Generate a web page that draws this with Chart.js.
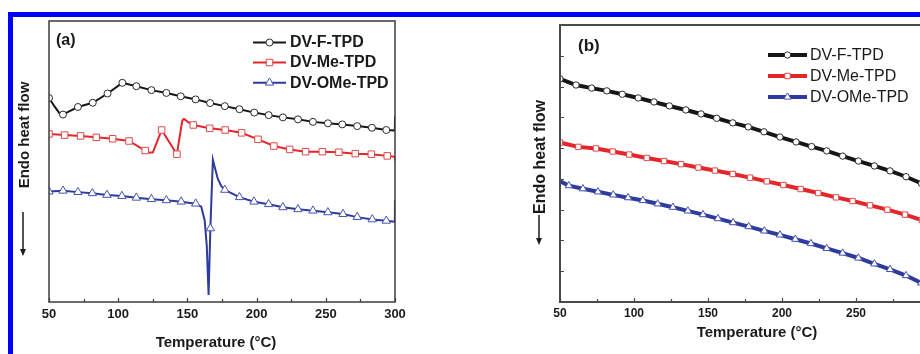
<!DOCTYPE html>
<html>
<head>
<meta charset="utf-8">
<script src="https://cdn.jsdelivr.net/npm/chart.js@4.4.1/dist/chart.umd.min.js"></script>
<style>
  html, body { margin: 0; padding: 0; background: #fff; }
  body { width: 920px; height: 354px; overflow: hidden; position: relative; }
  #frame { position: absolute; left: 8px; top: 12px; width: 1000px; height: 400px;
           border-top: 5px solid #0000ff; border-left: 5px solid #0000ff; }
  canvas { position: absolute; top: 0; }
  #ca { left: 0; }
  #cb { left: 460px; }
</style>
</head>
<body>
<div id="frame"></div>
<canvas id="ca" width="460" height="354"></canvas>
<canvas id="cb" width="480" height="354"></canvas>
<script>
// ---- data (temperature in C, heat flow in arbitrary units) ----
const seriesNames = ["DV-F-TPD", "DV-Me-TPD", "DV-OMe-TPD"];

// panel (a): points carrying a marker, plus extra points that only shape the line
const aFTemp = [50, 60.1, 70.9, 81.6, 92.3, 103, 113.1, 124, 134.8, 145.2, 155.9, 166.4, 177, 187.6, 198.3, 208.7, 219, 229.9, 240.7, 251.5, 261.9, 272.7, 283.3, 293.7];
const aFFlow = [72.6, 66.7, 69.4, 70.9, 74.2, 78.0, 76.8, 75.4, 74.4, 73.2, 72.1, 70.8, 69.7, 68.6, 67.4, 66.5, 65.7, 65.0, 64.1, 63.6, 63.2, 62.6, 62.0, 61.2];
const aFExtraTemp = [54, 57.5, 64.5, 299.9, 300];
const aFExtraFlow = [69.6, 67.2, 67.8, 61.0, 66.0];

const aMeTemp = [50, 61.3, 72.8, 84.2, 96, 107.8, 119.5, 131.4, 142.4, 154.3, 166.1, 177.3, 189.2, 201, 212.5, 223.9, 235.4, 247.5, 259.5, 271.3, 282.9, 294.4];
const aMeFlow = [59.8, 59.4, 59.1, 58.6, 58.1, 57.3, 53.9, 61.2, 52.6, 63.0, 61.8, 61.2, 60.2, 57.9, 55.5, 54.3, 53.5, 53.5, 53.3, 52.8, 52.6, 52.0];
const aMeExtraTemp = [122, 125, 143.5, 146.3, 147.5, 150, 299.9, 300];
const aMeExtraFlow = [53.2, 53.2, 56.0, 64.6, 65.2, 64.2, 51.7, 50.3];

const aOMeTemp = [50, 60.1, 70.9, 81.3, 91.9, 102.7, 113.1, 124, 134.8, 145.5, 156, 166.6, 177, 187.6, 198.1, 208.7, 219, 229.9, 240.7, 251.5, 262.4, 272.7, 283.6, 293.7];
const aOMeFlow = [39.3, 39.6, 39.1, 38.7, 38.1, 37.7, 37.1, 36.6, 36.2, 35.7, 35.0, 26.2, 39.9, 37.3, 35.7, 34.8, 33.7, 33.0, 32.5, 31.9, 31.3, 30.2, 29.4, 28.9];
const aOMeExtraTemp = [160, 162.5, 164, 165.3, 168.4, 170, 172, 174.5, 299.9, 300];
const aOMeExtraFlow = [33.9, 29.0, 20.0, 2.5, 50.6, 47.5, 43.8, 41.2, 28.6, 36.3];

// panel (b)
const bFTemp = [50, 60.8, 71.4, 81.6, 92.1, 102.9, 113.5, 123.9, 135, 145.3, 155.9, 166.7, 177.2, 187.8, 198.6, 209.5, 220, 230.2, 241, 251.6, 262.4, 273, 283.8, 294.3];
const bFFlow = [7.25, 7.05, 6.95, 6.86, 6.75, 6.63, 6.50, 6.37, 6.24, 6.11, 5.97, 5.82, 5.69, 5.53, 5.36, 5.20, 5.05, 4.91, 4.74, 4.58, 4.42, 4.26, 4.07, 3.85];
const bFExtraTemp = [300];
const bFExtraFlow = [3.74];

const bMeTemp = [50, 62.4, 74.3, 85.6, 96.8, 108.6, 120.3, 131.8, 143.5, 154.7, 166.7, 178.4, 189.7, 200.9, 212.6, 224.5, 236.5, 247.7, 259.5, 271.2, 283.1, 294.5];
const bMeFlow = [5.18, 5.04, 4.99, 4.89, 4.79, 4.68, 4.58, 4.48, 4.37, 4.27, 4.16, 4.04, 3.92, 3.80, 3.67, 3.54, 3.40, 3.28, 3.14, 3.00, 2.84, 2.66];
const bMeExtraTemp = [300];
const bMeExtraFlow = [2.58];

const bOMeTemp = [56, 65.5, 75.6, 86, 96, 106, 116, 126.3, 136.4, 146.6, 156.7, 167, 177.5, 188, 198.6, 209, 219.5, 230.2, 241, 251.6, 262.4, 273, 283.8, 294];
const bOMeFlow = [3.78, 3.68, 3.58, 3.48, 3.39, 3.30, 3.19, 3.08, 2.96, 2.84, 2.71, 2.58, 2.45, 2.31, 2.18, 2.04, 1.90, 1.74, 1.59, 1.43, 1.24, 1.06, 0.86, 0.62];
const bOMeExtraTemp = [50, 300];
const bOMeExtraFlow = [3.92, 0.50];

const tempMin = 50, tempMax = 300, tempStep = 50;

// ---- helpers ----
const FONT = '"Liberation Sans", Arial, sans-serif';
const colors = ["#161616", "#e3262c", "#2e3b9e"];
const markColors = ["#2a2a2a", "#e04848", "#4652b2"];
const markStyles = ["circle", "rect", "triangle"];

function buildPoints(t, y, et, ey) {
  const pts = t.map((v, i) => ({ x: v, y: y[i], mark: true }));
  et.forEach((v, i) => pts.push({ x: v, y: ey[i], mark: false }));
  return pts.sort((p, q) => p.x - q.x);
}

function makeDataset(i, pts, lineWidth, radii) {
  return {
    label: seriesNames[i],
    data: pts,
    borderColor: colors[i],
    borderWidth: lineWidth,
    pointStyle: markStyles[i],
    pointBackgroundColor: "#fff",
    pointBorderColor: markColors[i],
    pointBorderWidth: 1,
    pointRadius: ctx => (ctx.raw && ctx.raw.mark) ? radii[i] : 0,
    pointHoverRadius: 0,
    tension: 0,
    fill: false
  };
}

function drawMarker(ctx, style, x, y, r) {
  ctx.beginPath();
  if (style === "circle") {
    ctx.arc(x, y, r, 0, Math.PI * 2);
  } else if (style === "rect") {
    const s = r * Math.SQRT1_2;
    ctx.rect(x - s, y - s, 2 * s, 2 * s);
  } else {
    let a = 0;
    ctx.moveTo(x + Math.sin(a) * r, y - Math.cos(a) * r);
    a += Math.PI * 2 / 3;
    ctx.lineTo(x + Math.sin(a) * r, y - Math.cos(a) * r);
    a += Math.PI * 2 / 3;
    ctx.lineTo(x + Math.sin(a) * r, y - Math.cos(a) * r);
    ctx.closePath();
  }
  ctx.fill();
  ctx.stroke();
}

// frame, inner ticks, titles, panel tag and legend
function makeDecor(cfg) {
  return {
    id: "decor",
    afterDatasetsDraw(chart) {
      const ctx = chart.ctx;
      const a = chart.chartArea;
      const xs = chart.scales.x, ys = chart.scales.y;
      ctx.save();
      ctx.strokeStyle = cfg.frameColor;
      ctx.lineWidth = cfg.frameWidth;
      ctx.strokeRect(a.left, a.top, a.right - a.left, a.bottom - a.top);

      ctx.lineWidth = 1.2;
      ctx.beginPath();
      for (let t = tempMin; t <= tempMax; t += tempStep / 2) {
        const px = Math.round(xs.getPixelForValue(t)) + 0.5;
        const len = (t - tempMin) % tempStep === 0 ? 4 : 3;
        ctx.moveTo(px, a.bottom);
        ctx.lineTo(px, a.bottom - len);
      }
      if (cfg.yTicks) {
        for (let v = ys.min + 1; v < ys.max; v++) {
          const py = Math.round(ys.getPixelForValue(v)) + 0.5;
          ctx.moveTo(a.left, py);
          ctx.lineTo(a.left + 4, py);
        }
      }
      ctx.stroke();

      ctx.fillStyle = "#1a1a1a";
      ctx.textBaseline = "middle";
      // panel tag
      ctx.font = cfg.tag.font;
      ctx.textAlign = "left";
      ctx.fillText(cfg.tag.text, cfg.tag.x, cfg.tag.y);
      // x title
      ctx.font = cfg.xTitle.font;
      ctx.textAlign = "center";
      ctx.fillText("Temperature (\u00b0C)", cfg.xTitle.x, cfg.xTitle.y);
      // y title + arrow
      ctx.save();
      ctx.translate(cfg.yTitle.x, cfg.yTitle.y);
      ctx.rotate(-Math.PI / 2);
      ctx.font = cfg.yTitle.font;
      ctx.fillText("Endo heat flow", 0, 0);
      ctx.restore();
      ctx.strokeStyle = "#1a1a1a";
      ctx.lineWidth = 1.5;
      ctx.beginPath();
      ctx.moveTo(cfg.arrow.x, cfg.arrow.y1);
      ctx.lineTo(cfg.arrow.x, cfg.arrow.y2 - 5);
      ctx.stroke();
      ctx.beginPath();
      ctx.moveTo(cfg.arrow.x - 3, cfg.arrow.y2 - 7);
      ctx.lineTo(cfg.arrow.x + 3, cfg.arrow.y2 - 7);
      ctx.lineTo(cfg.arrow.x, cfg.arrow.y2);
      ctx.closePath();
      ctx.fill();

      // legend
      const lg = cfg.legend;
      chart.data.datasets.forEach((ds, i) => {
        const y = lg.rows[i];
        ctx.strokeStyle = ds.borderColor;
        ctx.lineWidth = ds.borderWidth;
        ctx.beginPath();
        ctx.moveTo(lg.x1, y);
        ctx.lineTo(lg.x2, y);
        ctx.stroke();
        ctx.fillStyle = "#fff";
        ctx.strokeStyle = ds.pointBorderColor;
        ctx.lineWidth = 1;
        drawMarker(ctx, ds.pointStyle, (lg.x1 + lg.x2) / 2, y, lg.radii[i]);
        ctx.fillStyle = "#1a1a1a";
        ctx.font = lg.font;
        ctx.textAlign = "left";
        ctx.fillText(ds.label, lg.textX, y + 0.5);
      });
      ctx.restore();
    }
  };
}

function makeOptions(yMax, pad, yWidth, tickFont, tickPad) {
  return {
    responsive: false,
    animation: false,
    events: [],
    layout: { padding: pad },
    plugins: { legend: { display: false }, tooltip: { enabled: false } },
    scales: {
      x: {
        type: "linear", min: tempMin, max: tempMax,
        grid: { display: false, drawTicks: false },
        border: { display: false },
        ticks: { stepSize: tempStep, font: tickFont, color: "#1a1a1a", padding: tickPad },
        afterFit: s => { s.height = 52; s.paddingLeft = 0; s.paddingRight = 0; }
      },
      y: {
        min: 0, max: yMax,
        grid: { display: false, drawTicks: false },
        border: { display: false },
        ticks: { display: false },
        afterFit: s => { s.width = yWidth; s.paddingTop = 0; s.paddingBottom = 0; }
      }
    }
  };
}

// ---- panel (a) ----
const radiiA = [3.5, 4.6, 4.8];
new Chart(document.getElementById("ca"), {
  type: "line",
  data: {
    datasets: [
      makeDataset(0, buildPoints(aFTemp, aFFlow, aFExtraTemp, aFExtraFlow), 2, radiiA),
      makeDataset(1, buildPoints(aMeTemp, aMeFlow, aMeExtraTemp, aMeExtraFlow), 2, radiiA),
      makeDataset(2, buildPoints(aOMeTemp, aOMeFlow, aOMeExtraTemp, aOMeExtraFlow), 2, radiiA)
    ]
  },
  options: makeOptions(100, { left: 0, top: 21, right: 65, bottom: 0 }, 49,
    { family: FONT, size: 13, weight: "bold" }, 5),
  plugins: [makeDecor({
    frameColor: "#3c3c3c", frameWidth: 1.5, yTicks: false,
    tag: { text: "(a)", x: 56, y: 41, font: "bold 16px " + FONT },
    xTitle: { x: 216, y: 343, font: "bold 15px " + FONT },
    yTitle: { x: 25, y: 135, font: "bold 15px " + FONT },
    arrow: { x: 23, y1: 212, y2: 256 },
    legend: { x1: 253, x2: 286, textX: 290, rows: [42.5, 62.5, 82.7], radii: radiiA,
              font: "bold 16px " + FONT }
  })]
});

// ---- panel (b) ----
const radiiB = [3.2, 3.8, 4.2];
new Chart(document.getElementById("cb"), {
  type: "line",
  data: {
    datasets: [
      makeDataset(0, buildPoints(bFTemp, bFFlow, bFExtraTemp, bFExtraFlow), 4, radiiB),
      makeDataset(1, buildPoints(bMeTemp, bMeFlow, bMeExtraTemp, bMeExtraFlow), 4, radiiB),
      makeDataset(2, buildPoints(bOMeTemp, bOMeFlow, bOMeExtraTemp, bOMeExtraFlow), 4, radiiB)
    ]
  },
  options: makeOptions(9, { left: 0, top: 25, right: 10, bottom: 0 }, 100,
    { family: FONT, size: 12, weight: "bold" }, 4),
  plugins: [makeDecor({
    frameColor: "#4a4a4a", frameWidth: 2, yTicks: true,
    tag: { text: "(b)", x: 118, y: 46, font: "bold 17px " + FONT },
    xTitle: { x: 297, y: 333, font: "bold 15px " + FONT },
    yTitle: { x: 81, y: 157, font: "bold 16px " + FONT },
    arrow: { x: 79, y1: 215, y2: 245 },
    legend: { x1: 308, x2: 347, textX: 350, rows: [55, 76, 97], radii: radiiB,
              font: "16px " + FONT }
  })]
});
</script>
</body>
</html>
